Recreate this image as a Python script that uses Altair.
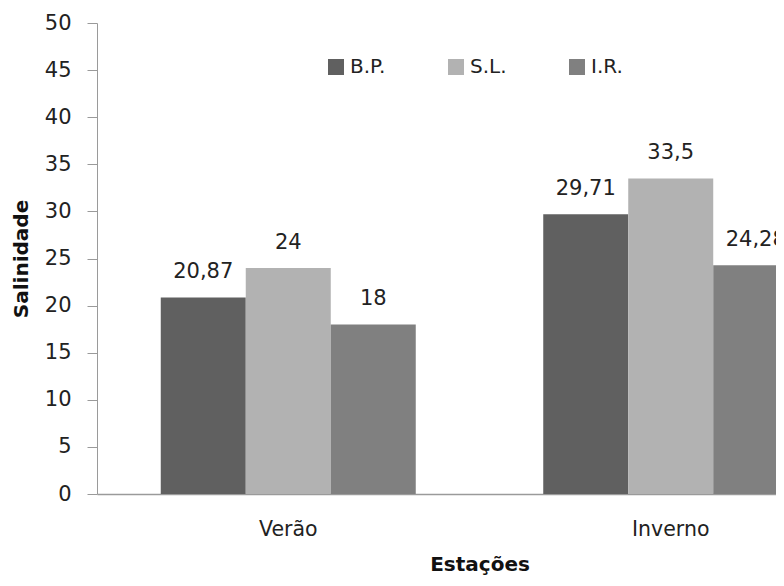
import altair as alt
import pandas as pd

estacoes = ["Verão", "Inverno"]
locais = ["B.P.", "S.L.", "I.R."]
verao = [20.87, 24, 18]
inverno = [29.71, 33.5, 24.28]
cores = ["#606060", "#b2b2b2", "#808080"]
y_ticks = [0, 5, 10, 15, 20, 25, 30, 35, 40, 45, 50]

rows = []
for est, vals in zip(estacoes, [verao, inverno]):
    for loc, v in zip(locais, vals):
        rows.append({"Estação": est, "Local": loc, "Salinidade": v,
                     "rotulo": f"{v:g}".replace(".", ",")})
df = pd.DataFrame(rows)

FONT = "DejaVu Sans"

x = alt.X("Estação:N", sort=estacoes,
          scale=alt.Scale(range=[0, 765], paddingInner=0.3333, paddingOuter=0.1667),
          axis=alt.Axis(title="Estações", labelAngle=0, ticks=False, labelPadding=25,
                        titlePadding=15, domainColor="#9a9a9a", domainWidth=1.5,
                        labelFontSize=20.5, titleFontSize=20, labelColor="#222222",
                        titleColor="#111111", titleFontWeight="bold"))
xo = alt.XOffset("Local:N", sort=locais, scale=alt.Scale(paddingInner=0, paddingOuter=0))
y = alt.Y("Salinidade:Q",
          scale=alt.Scale(domain=[0, 50], nice=False),
          axis=alt.Axis(title="Salinidade", values=y_ticks, tickSize=10, labelPadding=16,
                        titlePadding=13, domainColor="#9a9a9a", tickColor="#9a9a9a",
                        labelFontSize=21, titleFontSize=20, labelColor="#222222",
                        titleColor="#111111", titleFontWeight="bold"))

bars = alt.Chart(df).mark_bar(clip=True).encode(
    x=x, xOffset=xo, y=y,
    color=alt.Color("Local:N", sort=locais,
                    scale=alt.Scale(domain=locais, range=cores),
                    legend=alt.Legend(title=None, orient="none", legendX=229, legendY=34,
                                      direction="horizontal", symbolType="square",
                                      symbolSize=256, symbolStrokeWidth=0,
                                      labelFontSize=20, labelOffset=4, columnPadding=60,
                                      padding=0, labelColor="#222222")),
)

labels = alt.Chart(df).mark_text(dy=-19, baseline="alphabetic", fontSize=21,
                                 font=FONT, color="#222222").encode(
    x=x, xOffset=xo, y=y, text="rotulo:N")

chart = alt.layer(bars, labels).properties(
    width=679, height=471,
    autosize=alt.AutoSizeParams(type="none"),
    padding={"left": 89, "top": 15, "right": 0, "bottom": 83},
).configure_view(stroke=None).configure_axis(
    grid=False, labelFont=FONT, titleFont=FONT
).configure_legend(labelFont=FONT)

chart.save("out.html", embed_options={"renderer": "svg", "actions": False})
